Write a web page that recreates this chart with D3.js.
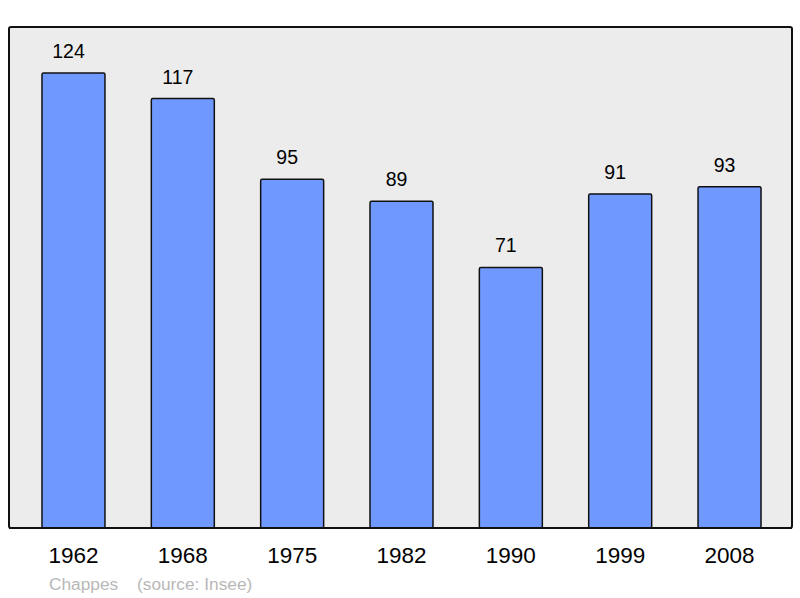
<!DOCTYPE html>
<html lang="fr">
<head>
    <meta charset="UTF-8">
    <title>Chappes - population</title>
    <script src="https://d3js.org/d3.v7.min.js"></script>
    <style>
        body { margin: 0; background: #fff; }
        text { font-family: "Liberation Sans", Arial, sans-serif; }
    </style>
</head>
<body>
    <div id="chart"></div>

    <script>
        // population by census year
        var years = ["1962", "1968", "1975", "1982", "1990", "1999", "2008"];
        var population = [124, 117, 95, 89, 71, 91, 93];
        var commune = "Chappes";
        var source = "(source: Insee)";

        var width = 800,
            height = 598;

        // frame of the plot area
        var frame = {left: 9, top: 27, right: 792, bottom: 528};

        var svg = d3.select("#chart").append("svg")
            .attr("width", width)
            .attr("height", height);

        svg.append("rect")
            .attr("x", frame.left)
            .attr("y", frame.top)
            .attr("width", frame.right - frame.left)
            .attr("height", frame.bottom - frame.top)
            .attr("rx", 2)
            .style("fill", "#ececec")
            .style("stroke", "#111")
            .style("stroke-width", 2);

        var x = d3.scaleBand()
            .domain(years)
            .range([18.8, 784.2])
            .paddingInner(0.424)
            .paddingOuter(0.212);

        var y = d3.scaleLinear()
            .domain([0, 136.5])
            .range([frame.bottom, frame.top]);

        var data = years.map(function(yr, i) { return {year: yr, value: population[i]}; });

        svg.selectAll("rect.bar")
            .data(data)
            .enter().append("rect")
            .attr("class", "bar")
            .attr("x", function(d) { return x(d.year); })
            .attr("y", function(d) { return y(d.value); })
            .attr("width", x.bandwidth())
            .attr("height", function(d) { return frame.bottom - y(d.value); })
            .attr("rx", 1.5)
            .style("fill", "#7099ff")
            .style("stroke", "#111")
            .style("stroke-width", 1.5);

        // value labels above the bars (sit a little left of centre)
        svg.selectAll("text.value")
            .data(data)
            .enter().append("text")
            .attr("class", "value")
            .attr("x", function(d) { return x(d.year) + x.bandwidth() / 2 - 5; })
            .attr("y", function(d) { return y(d.value) - 15; })
            .attr("text-anchor", "middle")
            .style("font-size", "19.5px")
            .style("fill", "#000")
            .text(function(d) { return d.value; });

        // redraw the bottom edge over the bars
        svg.append("line")
            .attr("x1", frame.left)
            .attr("x2", frame.right)
            .attr("y1", frame.bottom)
            .attr("y2", frame.bottom)
            .style("stroke", "#111")
            .style("stroke-width", 2);

        // year axis, no line or ticks
        var axis = svg.append("g")
            .attr("transform", "translate(0," + frame.bottom + ")")
            .call(d3.axisBottom(x).tickSize(0).tickPadding(19));
        axis.select(".domain").remove();
        axis.selectAll("text")
            .style("font-family", "'Liberation Sans', Arial, sans-serif")
            .style("font-size", "22.5px")
            .style("fill", "#000");

        svg.append("text")
            .attr("x", 49)
            .attr("y", 590)
            .style("font-size", "17.3px")
            .style("fill", "#b8b8b8")
            .text(commune);

        svg.append("text")
            .attr("x", 137)
            .attr("y", 590)
            .style("font-size", "17.3px")
            .style("fill", "#b8b8b8")
            .text(source);
    </script>
</body>
</html>
